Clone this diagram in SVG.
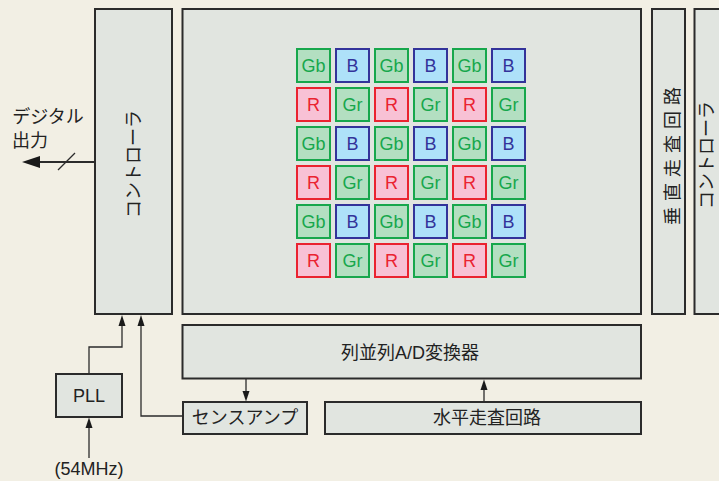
<svg xmlns="http://www.w3.org/2000/svg" width="719" height="481" viewBox="0 0 719 481">
<style>
.box{fill:#e1e5e0;stroke:#2b2b2b;stroke-width:2}
.t{font-family:"Liberation Sans","Noto Sans CJK JP",sans-serif;font-size:18px;fill:#222;text-anchor:middle;dominant-baseline:central}
.c{font-family:"Liberation Sans",sans-serif;font-size:18px;text-anchor:middle;dominant-baseline:central}
.g rect{fill:#b3dfc1;stroke:#17a74c;stroke-width:2}
.g text{fill:#17a74c}
.b rect{fill:#aee1f9;stroke:#33339a;stroke-width:2}
.b text{fill:#33339a}
.r rect{fill:#f8c1d5;stroke:#ea2330;stroke-width:2}
.r text{fill:#ea2330}
.ln{fill:none;stroke:#2b2b2b;stroke-width:1.3}
.ah{fill:#1a1a1a}
</style>
<rect width="719" height="481" fill="#f2efe4"/>
<g id="controller-left"><rect class="box" x="95" y="9" width="77" height="305"/><text class="t" transform="translate(133.5,164) rotate(-90)">コントローラ</text></g>
<g id="pixel-array"><rect class="box" x="182.5" y="9" width="458.5" height="305"/>
<g id="row1"><g class="g"><rect x="297" y="49" width="33" height="33"/><text class="c" x="313.5" y="66">Gb</text></g><g class="b"><rect x="336" y="49" width="33" height="33"/><text class="c" x="352.5" y="66">B</text></g><g class="g"><rect x="375" y="49" width="33" height="33"/><text class="c" x="391.5" y="66">Gb</text></g><g class="b"><rect x="414" y="49" width="33" height="33"/><text class="c" x="430.5" y="66">B</text></g><g class="g"><rect x="453" y="49" width="33" height="33"/><text class="c" x="469.5" y="66">Gb</text></g><g class="b"><rect x="492" y="49" width="33" height="33"/><text class="c" x="508.5" y="66">B</text></g></g>
<g id="row2"><g class="r"><rect x="297" y="88" width="33" height="33"/><text class="c" x="313.5" y="105">R</text></g><g class="g"><rect x="336" y="88" width="33" height="33"/><text class="c" x="352.5" y="105">Gr</text></g><g class="r"><rect x="375" y="88" width="33" height="33"/><text class="c" x="391.5" y="105">R</text></g><g class="g"><rect x="414" y="88" width="33" height="33"/><text class="c" x="430.5" y="105">Gr</text></g><g class="r"><rect x="453" y="88" width="33" height="33"/><text class="c" x="469.5" y="105">R</text></g><g class="g"><rect x="492" y="88" width="33" height="33"/><text class="c" x="508.5" y="105">Gr</text></g></g>
<g id="row3"><g class="g"><rect x="297" y="127" width="33" height="33"/><text class="c" x="313.5" y="144">Gb</text></g><g class="b"><rect x="336" y="127" width="33" height="33"/><text class="c" x="352.5" y="144">B</text></g><g class="g"><rect x="375" y="127" width="33" height="33"/><text class="c" x="391.5" y="144">Gb</text></g><g class="b"><rect x="414" y="127" width="33" height="33"/><text class="c" x="430.5" y="144">B</text></g><g class="g"><rect x="453" y="127" width="33" height="33"/><text class="c" x="469.5" y="144">Gb</text></g><g class="b"><rect x="492" y="127" width="33" height="33"/><text class="c" x="508.5" y="144">B</text></g></g>
<g id="row4"><g class="r"><rect x="297" y="166" width="33" height="33"/><text class="c" x="313.5" y="183">R</text></g><g class="g"><rect x="336" y="166" width="33" height="33"/><text class="c" x="352.5" y="183">Gr</text></g><g class="r"><rect x="375" y="166" width="33" height="33"/><text class="c" x="391.5" y="183">R</text></g><g class="g"><rect x="414" y="166" width="33" height="33"/><text class="c" x="430.5" y="183">Gr</text></g><g class="r"><rect x="453" y="166" width="33" height="33"/><text class="c" x="469.5" y="183">R</text></g><g class="g"><rect x="492" y="166" width="33" height="33"/><text class="c" x="508.5" y="183">Gr</text></g></g>
<g id="row5"><g class="g"><rect x="297" y="205" width="33" height="33"/><text class="c" x="313.5" y="222">Gb</text></g><g class="b"><rect x="336" y="205" width="33" height="33"/><text class="c" x="352.5" y="222">B</text></g><g class="g"><rect x="375" y="205" width="33" height="33"/><text class="c" x="391.5" y="222">Gb</text></g><g class="b"><rect x="414" y="205" width="33" height="33"/><text class="c" x="430.5" y="222">B</text></g><g class="g"><rect x="453" y="205" width="33" height="33"/><text class="c" x="469.5" y="222">Gb</text></g><g class="b"><rect x="492" y="205" width="33" height="33"/><text class="c" x="508.5" y="222">B</text></g></g>
<g id="row6"><g class="r"><rect x="297" y="244" width="33" height="33"/><text class="c" x="313.5" y="261">R</text></g><g class="g"><rect x="336" y="244" width="33" height="33"/><text class="c" x="352.5" y="261">Gr</text></g><g class="r"><rect x="375" y="244" width="33" height="33"/><text class="c" x="391.5" y="261">R</text></g><g class="g"><rect x="414" y="244" width="33" height="33"/><text class="c" x="430.5" y="261">Gr</text></g><g class="r"><rect x="453" y="244" width="33" height="33"/><text class="c" x="469.5" y="261">R</text></g><g class="g"><rect x="492" y="244" width="33" height="33"/><text class="c" x="508.5" y="261">Gr</text></g></g>
</g>
<g id="vertical-scan"><rect class="box" x="652" y="9" width="33" height="305"/><text class="t" style="letter-spacing:6px" transform="translate(672.5,153) rotate(-90)">垂直走査回路</text></g>
<g id="controller-right"><rect class="box" x="694.5" y="9" width="40" height="305"/><text class="t" transform="translate(707,155) rotate(-90)">コントローラ</text></g>
<g id="adc"><rect class="box" x="182.5" y="325" width="458.5" height="53.5"/><text class="t" x="410" y="353">列並列A/D変換器</text></g>
<g id="sense-amp"><rect class="box" x="183" y="402" width="124" height="32"/><text class="t" x="245" y="418">センスアンプ</text></g>
<g id="horizontal-scan"><rect class="box" x="325" y="402" width="316" height="32"/><text class="t" x="487" y="418">水平走査回路</text></g>
<g id="pll"><rect class="box" x="56" y="374" width="66" height="43"/><text class="t" x="89" y="396">PLL</text></g>
<g id="labels">
<text class="t" x="48" y="117">デジタル</text>
<text class="t" x="30" y="141">出力</text>
<text class="t" x="89" y="469">(54MHz)</text>
</g>
<g id="connectors">
<line class="ln" x1="95" y1="162" x2="36" y2="162" style="stroke-width:2.2"/>
<polygon class="ah" points="22,162 40,156 40,168"/>
<line class="ln" x1="58" y1="170" x2="75" y2="153"/>
<polyline class="ln" points="89,374 89,347 122,347 122,324"/>
<polygon class="ah" points="122,315 118.5,326 125.5,326"/>
<polyline class="ln" points="183,416 141,416 141,324"/>
<polygon class="ah" points="141,315 137.5,326 144.5,326"/>
<line class="ln" x1="89" y1="458" x2="89" y2="426"/>
<polygon class="ah" points="89,417.5 85.5,428 92.5,428"/>
<line class="ln" x1="246" y1="379" x2="246" y2="392"/>
<polygon class="ah" points="246,401.5 242.5,391 249.5,391"/>
<line class="ln" x1="484" y1="402" x2="484" y2="389"/>
<polygon class="ah" points="484,379.5 480.5,390 487.5,390"/>
</g>
</svg>
